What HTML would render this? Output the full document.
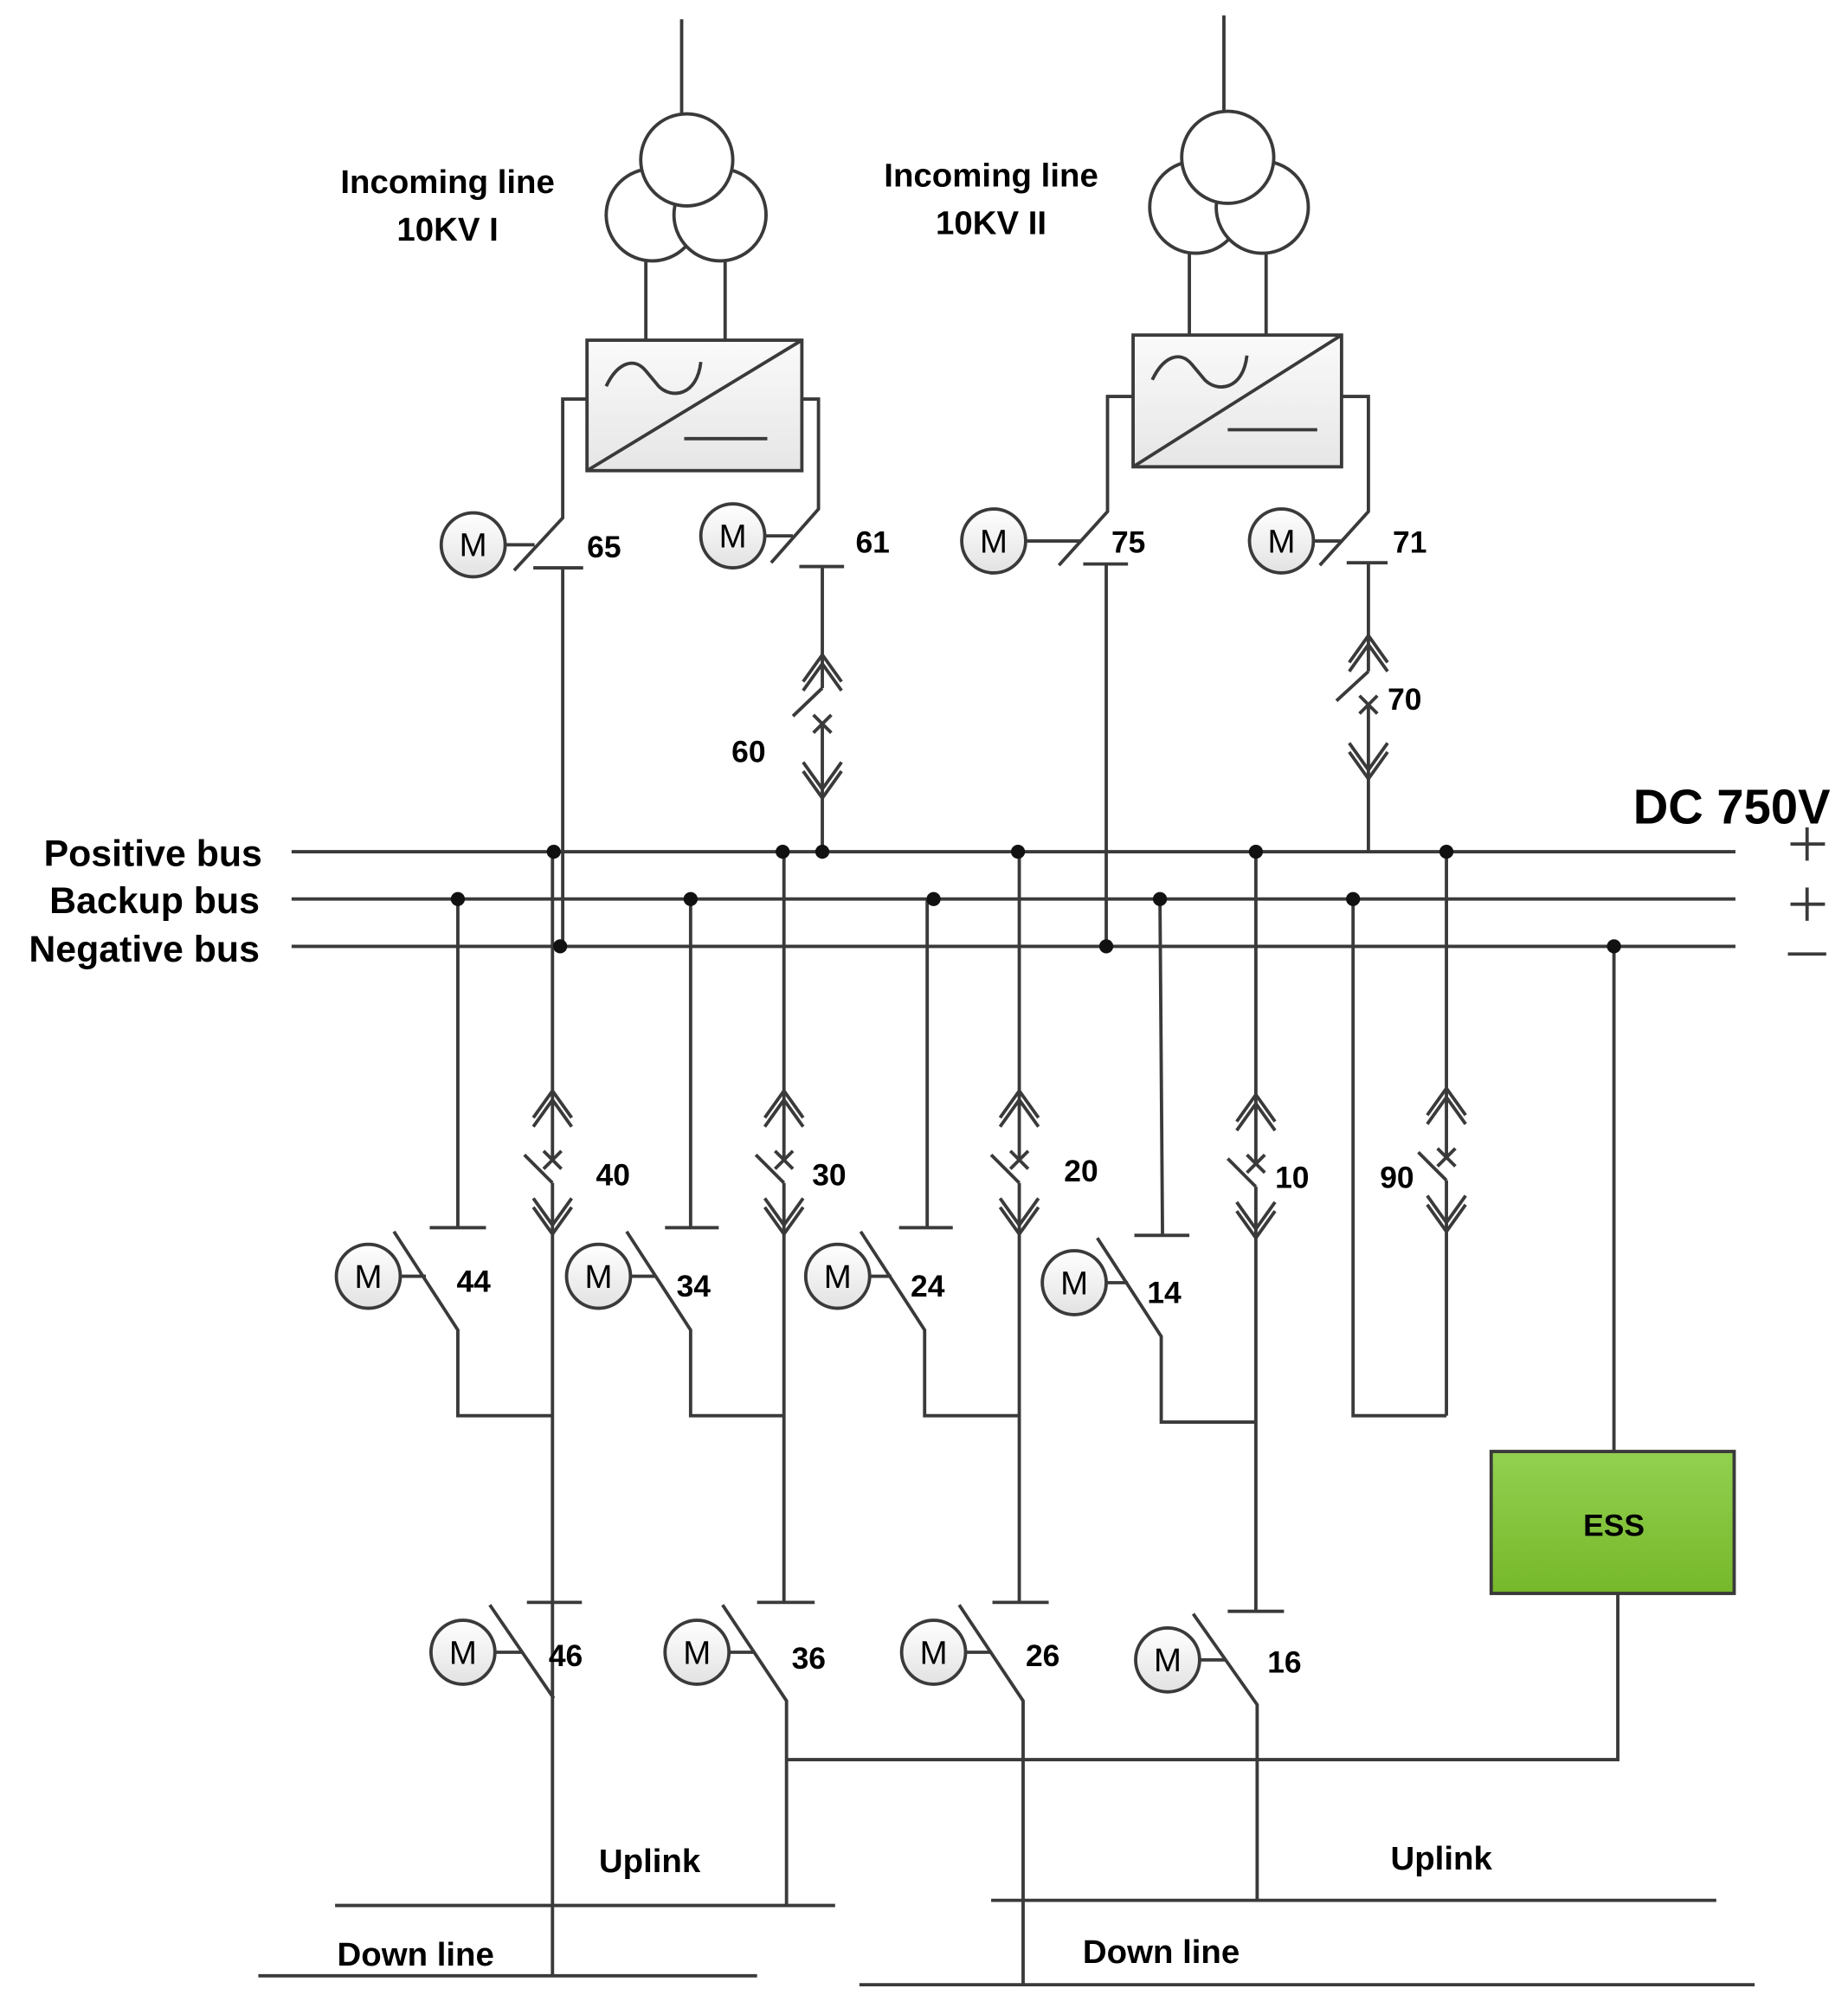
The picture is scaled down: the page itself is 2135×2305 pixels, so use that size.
<!DOCTYPE html>
<html><head><meta charset="utf-8"><style>
html,body{margin:0;padding:0;background:#fff;}
svg{display:block;}
text{font-family:"Liberation Sans",sans-serif;font-weight:bold;fill:#000;}
</style></head><body>
<svg width="2135" height="2305" viewBox="0 0 1445 1560" xmlns="http://www.w3.org/2000/svg">
<defs>
<linearGradient id="gm" x1="0" y1="0" x2="0" y2="1"><stop offset="0" stop-color="#ffffff"/><stop offset="1" stop-color="#e2e2e2"/></linearGradient>
<linearGradient id="gb" x1="0" y1="0" x2="0" y2="1"><stop offset="0" stop-color="#fafafa"/><stop offset="1" stop-color="#e6e6e6"/></linearGradient>
<linearGradient id="ge" x1="0" y1="0" x2="0" y2="1"><stop offset="0" stop-color="#92d050"/><stop offset="1" stop-color="#76b82a"/></linearGradient>
<g id="chev">
<polyline points="-15,-33 0,-54 15,-33" fill="none"/>
<polyline points="-15,-26 0,-47 15,-26" fill="none"/>
<polyline points="-15,30 0,51 15,30" fill="none"/>
<polyline points="-15,37 0,58 15,37" fill="none"/>
<line x1="-7" y1="-7" x2="7" y2="7"/><line x1="-7" y1="7" x2="7" y2="-7"/>
</g>
<g id="mot"><circle cx="0" cy="0" r="25" fill="url(#gm)"/></g>
</defs>
<g stroke="#3a3a3a" stroke-width="2.6" fill="none" stroke-linecap="butt">
<!-- transformer 1 -->
<line x1="533" y1="15" x2="533" y2="90"/>
<circle cx="510" cy="168" r="36" fill="#fff"/>
<circle cx="563" cy="168" r="36" fill="#fff"/>
<circle cx="537" cy="125" r="36" fill="#fff"/>
<line x1="505" y1="203" x2="505" y2="266"/><line x1="567" y1="203" x2="567" y2="266"/>
<rect x="459" y="266" width="168" height="102" fill="url(#gb)"/>
<line x1="459" y1="368" x2="627" y2="266"/>
<path d="M474,302 C482,285 495,278 505,290 L515,302 C525,312 545,310 548,283"/>
<line x1="535" y1="343" x2="600" y2="343"/>
<!-- transformer 2 -->
<line x1="957" y1="12" x2="957" y2="88"/>
<circle cx="935" cy="162" r="36" fill="#fff"/>
<circle cx="987" cy="162" r="36" fill="#fff"/>
<circle cx="960" cy="123" r="36" fill="#fff"/>
<line x1="930" y1="197" x2="930" y2="262"/><line x1="990" y1="197" x2="990" y2="262"/>
<rect x="886" y="262" width="163" height="103" fill="url(#gb)"/>
<line x1="886" y1="365" x2="1049" y2="262"/>
<path d="M901,297 C909,280 922,273 932,285 L942,297 C952,307 972,305 975,278"/>
<line x1="960" y1="336" x2="1030" y2="336"/>
<!-- switch 65 -->
<polyline points="459,312 440,312 440,405 402,446"/>
<line x1="417" y1="444" x2="456" y2="444"/>
<line x1="440" y1="444" x2="440" y2="740"/>
<line x1="395" y1="426" x2="418" y2="426"/>
<use href="#mot" x="370" y="426"/>
<!-- switch 61 -->
<polyline points="627,312 640,312 640,398 603,440"/>
<line x1="625" y1="443" x2="660" y2="443"/>
<line x1="598" y1="419" x2="620" y2="419"/>
<use href="#mot" x="573" y="419"/>
<!-- 60 -->
<line x1="643" y1="443" x2="643" y2="538"/>
<line x1="643" y1="566" x2="643" y2="666"/>
<line x1="620" y1="560" x2="643" y2="538"/>
<use href="#chev" x="643" y="566"/>
<!-- switch 75 -->
<polyline points="886,310 866,310 866,400 828,442"/>
<line x1="847" y1="441" x2="882" y2="441"/>
<line x1="865" y1="441" x2="865" y2="740"/>
<line x1="802" y1="423" x2="845" y2="423"/>
<use href="#mot" x="777" y="423"/>
<!-- switch 71 -->
<polyline points="1049,310 1070,310 1070,400 1032,442"/>
<line x1="1053" y1="440" x2="1085" y2="440"/>
<line x1="1027" y1="423" x2="1050" y2="423"/>
<use href="#mot" x="1002" y="423"/>
<!-- 70 -->
<line x1="1070" y1="440" x2="1070" y2="525"/>
<line x1="1070" y1="551" x2="1070" y2="666"/>
<line x1="1045" y1="548" x2="1070" y2="525"/>
<use href="#chev" x="1070" y="551"/>
<!-- buses -->
<line x1="228" y1="666" x2="1357" y2="666"/>
<line x1="228" y1="703" x2="1357" y2="703"/>
<line x1="228" y1="740" x2="1357" y2="740"/>
<line x1="1400" y1="660" x2="1427" y2="660"/><line x1="1413" y1="647" x2="1413" y2="673"/>
<line x1="1400" y1="707" x2="1427" y2="707"/><line x1="1413" y1="694" x2="1413" y2="720"/>
<line x1="1398" y1="746" x2="1428" y2="746"/>
<!-- 40 -->
<line x1="432" y1="666" x2="432" y2="907"/><line x1="410" y1="903" x2="432" y2="925"/><line x1="432" y1="925" x2="432" y2="1545"/>
<use href="#chev" x="432" y="907"/>
<line x1="412" y1="1253" x2="455" y2="1253"/>
<!-- 30 -->
<line x1="613" y1="666" x2="613" y2="907"/><line x1="591" y1="903" x2="613" y2="925"/><line x1="613" y1="925" x2="613" y2="1253"/>
<use href="#chev" x="613" y="907"/>
<line x1="592" y1="1253" x2="637" y2="1253"/>
<!-- 20 -->
<line x1="797" y1="666" x2="797" y2="907"/><line x1="775" y1="903" x2="797" y2="925"/><line x1="797" y1="925" x2="797" y2="1253"/>
<use href="#chev" x="797" y="907"/>
<line x1="776" y1="1253" x2="820" y2="1253"/>
<!-- 10 -->
<line x1="982" y1="666" x2="982" y2="910"/><line x1="960" y1="906" x2="982" y2="928"/><line x1="982" y1="928" x2="982" y2="1260"/>
<use href="#chev" x="982" y="910"/>
<line x1="960" y1="1260" x2="1004" y2="1260"/>
<!-- 90 -->
<line x1="1131" y1="666" x2="1131" y2="905"/><line x1="1109" y1="901" x2="1131" y2="923"/><line x1="1131" y1="923" x2="1131" y2="1107"/>
<use href="#chev" x="1131" y="905"/>
<polyline points="1058,703 1058,1107 1131,1107"/>
<!-- backup switches -->
<line x1="358" y1="703" x2="358" y2="960"/><line x1="336" y1="960" x2="380" y2="960"/>
<polyline points="308,963 358,1040 358,1107 432,1107"/>
<line x1="313" y1="998" x2="333" y2="998"/><use href="#mot" x="288" y="998"/>
<line x1="540" y1="703" x2="540" y2="960"/><line x1="520" y1="960" x2="562" y2="960"/>
<polyline points="490,963 540,1040 540,1107 613,1107"/>
<line x1="493" y1="998" x2="513" y2="998"/><use href="#mot" x="468" y="998"/>
<line x1="725" y1="703" x2="730" y2="703"/><line x1="725" y1="703" x2="725" y2="960"/><line x1="703" y1="960" x2="745" y2="960"/>
<polyline points="673,963 723,1040 723,1107 797,1107"/>
<line x1="680" y1="998" x2="697" y2="998"/><use href="#mot" x="655" y="998"/>
<line x1="907" y1="703" x2="909" y2="966"/><line x1="887" y1="966" x2="930" y2="966"/>
<polyline points="858,968 908,1045 908,1112 982,1112"/>
<line x1="865" y1="1003" x2="882" y2="1003"/><use href="#mot" x="840" y="1003"/>
<!-- bottom switches -->
<polyline points="383,1255 433,1328"/><line x1="387" y1="1292" x2="408" y2="1292"/><use href="#mot" x="362" y="1292"/>
<polyline points="565,1255 615,1330 615,1490"/><line x1="570" y1="1292" x2="590" y2="1292"/><use href="#mot" x="545" y="1292"/>
<polyline points="750,1255 800,1330 800,1552"/><line x1="755" y1="1292" x2="775" y2="1292"/><use href="#mot" x="730" y="1292"/>
<polyline points="933,1262 983,1333 983,1486"/><line x1="938" y1="1298" x2="958" y2="1298"/><use href="#mot" x="913" y="1298"/>
<!-- ESS -->
<line x1="1262" y1="740" x2="1262" y2="1135"/>
<rect x="1166" y="1135" width="190" height="111" fill="url(#ge)"/>
<polyline points="1265,1246 1265,1376 615,1376"/>
<!-- uplinks / down lines -->
<line x1="262" y1="1490" x2="653" y2="1490"/>
<line x1="202" y1="1545" x2="592" y2="1545"/>
<line x1="775" y1="1486" x2="1342" y2="1486"/>
<line x1="672" y1="1552" x2="1372" y2="1552"/>
</g>
<g fill="#111">
<circle cx="433" cy="666" r="5.5"/><circle cx="612" cy="666" r="5.5"/><circle cx="643" cy="666" r="5.5"/><circle cx="796" cy="666" r="5.5"/><circle cx="982" cy="666" r="5.5"/><circle cx="1131" cy="666" r="5.5"/>
<circle cx="358" cy="703" r="5.5"/><circle cx="540" cy="703" r="5.5"/><circle cx="730" cy="703" r="5.5"/><circle cx="907" cy="703" r="5.5"/><circle cx="1058" cy="703" r="5.5"/>
<circle cx="438" cy="740" r="5.5"/><circle cx="865" cy="740" r="5.5"/><circle cx="1262" cy="740" r="5.5"/>
</g>
<g font-size="26" text-anchor="middle">
<text x="370" y="435" style="font-weight:normal">M</text><text x="573" y="428" style="font-weight:normal">M</text>
<text x="777" y="432" style="font-weight:normal">M</text><text x="1002" y="432" style="font-weight:normal">M</text>
<text x="288" y="1007" style="font-weight:normal">M</text><text x="468" y="1007" style="font-weight:normal">M</text>
<text x="655" y="1007" style="font-weight:normal">M</text><text x="840" y="1012" style="font-weight:normal">M</text>
<text x="362" y="1301" style="font-weight:normal">M</text><text x="545" y="1301" style="font-weight:normal">M</text>
<text x="730" y="1301" style="font-weight:normal">M</text><text x="913" y="1307" style="font-weight:normal">M</text>
</g>
<g font-size="24">
<text x="459" y="436">65</text><text x="669" y="432">61</text><text x="869" y="432">75</text><text x="1089" y="432">71</text>
<text x="572" y="596">60</text><text x="1085" y="555">70</text>
<text x="466" y="927">40</text><text x="635" y="927">30</text><text x="832" y="924">20</text><text x="997" y="929">10</text><text x="1079" y="929">90</text>
<text x="357" y="1010">44</text><text x="529" y="1014">34</text><text x="712" y="1014">24</text><text x="897" y="1019">14</text>
<text x="429" y="1303">46</text><text x="619" y="1305">36</text><text x="802" y="1303">26</text><text x="991" y="1308">16</text>
</g>
<g font-size="26" text-anchor="middle">
<text x="350" y="151">Incoming line</text><text x="350" y="188">10KV I</text>
<text x="775" y="146">Incoming line</text><text x="775" y="183">10KV  II</text>
<text x="508" y="1464">Uplink</text><text x="325" y="1537">Down line</text>
<text x="1127" y="1462">Uplink</text><text x="908" y="1535">Down line</text>
<text x="1262" y="1201" font-size="24">ESS</text>
</g>
<g font-size="29" text-anchor="end">
<text x="205" y="677">Positive bus</text>
<text x="203" y="714">Backup bus</text>
<text x="203" y="752">Negative bus</text>
</g>
<text x="1277" y="644" font-size="38">DC 750V</text>
</svg>
</body></html>
